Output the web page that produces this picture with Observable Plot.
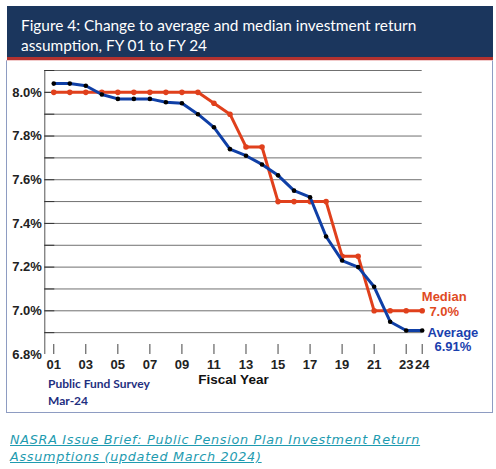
<!DOCTYPE html>
<html><head><meta charset="utf-8">
<script src="https://cdn.jsdelivr.net/npm/d3@7"></script>
<script src="https://cdn.jsdelivr.net/npm/@observablehq/plot@0.6"></script>
<style>
body{margin:0;background:#fff;}
#wrap{position:relative;width:496px;height:469px;overflow:hidden;font-family:"Liberation Sans",Arial,sans-serif;}
#title{position:absolute;left:7px;top:6px;width:486px;height:54px;background:#1b365d;border-bottom:3px solid #b3322f;color:#fff;font-family:Lato,sans-serif;font-size:15.4px;line-height:20px;box-sizing:border-box;padding:9px 0 0 14px;}
#box{position:absolute;left:6px;top:60px;width:487px;height:353px;border-left:1.5px solid #8e9cc2;border-right:1.5px solid #8e9cc2;border-bottom:1.5px solid #8e9cc2;border-top:1px solid #f2caca;box-sizing:border-box;}
#chart{position:absolute;left:0;top:0;}
#src{position:absolute;left:48px;top:374.5px;color:#1f2f80;font-family:Lato,sans-serif;font-weight:bold;font-size:12px;line-height:17px;}
#cap{position:absolute;left:10px;top:430.5px;color:#1e9bb0;font-family:"DejaVu Sans",sans-serif;font-style:italic;font-size:12.8px;letter-spacing:0.7px;line-height:17px;text-decoration:underline;white-space:nowrap;}
</style></head>
<body>
<div id="wrap">
  <div id="box"></div>
  <div id="chart"></div>
  <div id="title">Figure 4: Change to average and median investment return<br>assumption, FY 01 to FY 24</div>
  <div id="src">Public Fund Survey<br>Mar-24</div>
  <div id="cap">NASRA Issue Brief: Public Pension Plan Investment Return<br>Assumptions (updated March 2024)</div>
</div>
<script>
const years = [1,2,3,4,5,6,7,8,9,10,11,12,13,14,15,16,17,18,19,20,21,22,23,24];
const average = [8.04,8.04,8.03,7.99,7.97,7.97,7.97,7.955,7.95,7.90,7.84,7.74,7.71,7.67,7.62,7.55,7.52,7.34,7.23,7.20,7.11,6.95,6.91,6.91];
const median = [8.0,8.0,8.0,8.0,8.0,8.0,8.0,8.0,8.0,8.0,7.95,7.90,7.75,7.75,7.5,7.5,7.5,7.5,7.25,7.25,7.0,7.0,7.0,7.0];
const xTicks = [1,3,5,7,9,11,13,15,17,19,21,23,24];
const yLabelTicks = [6.8,7.0,7.2,7.4,7.6,7.8,8.0];
const gridValues = [6.9,7.0,7.1,7.2,7.3,7.4,7.5,7.6,7.7,7.8,7.9,8.0,8.1];
const xDomain = [0.44, 24];
const yDomain = [6.8, 8.1];
const medianLabel = "Median\n7.0%";
const averageLabel = "Average\n6.91%";
const xLabel = "Fiscal Year";

const data = years.map((y, i) => ({year: y, average: average[i], median: median[i]}));
const last = data[data.length - 1];
const red = "#e0401c", blue = "#0f3fa6";

const chart = Plot.plot({
  width: 496, height: 420,
  marginTop: 70, marginBottom: 66, marginLeft: 44.3, marginRight: 74.3,
  style: {fontFamily: '"Liberation Sans", Arial, sans-serif', overflow: "visible", background: "transparent"},
  x: {domain: xDomain},
  y: {domain: yDomain},
  marks: [
    Plot.ruleY(gridValues, {stroke: "#707070", strokeWidth: 1}),
    Plot.ruleX([xDomain[0]], {y1: yDomain[0], y2: yDomain[1], stroke: "#555", strokeWidth: 1}),
    Plot.axisY({ticks: gridValues, tickSize: -10, text: null, stroke: "#333", label: null}),
    Plot.axisY({ticks: yLabelTicks, tickSize: 0, tickPadding: 3, tickFormat: d => d.toFixed(1) + "%", fontSize: 13, fontWeight: "bold", fill: "#222", label: null}),
    Plot.axisX({ticks: xTicks, tickSize: -10, text: null, stroke: "#444", label: null}),
    Plot.axisX({ticks: xTicks, tickSize: 0, tickPadding: 5, tickFormat: d => String(d).padStart(2, "0"), fontSize: 13, fontWeight: "bold", fill: "#222", label: null}),
    Plot.text([xLabel], {frameAnchor: "bottom", dy: 29, fontSize: 13.5, fontWeight: "bold", fill: "#111"}),
    Plot.line(data, {x: "year", y: "median", stroke: red, strokeWidth: 3}),
    Plot.dot(data, {x: "year", y: "median", fill: red, r: 2.8}),
    Plot.line(data, {x: "year", y: "average", stroke: blue, strokeWidth: 3}),
    Plot.dot(data, {x: "year", y: "average", fill: "#000", r: 2.3}),
    Plot.text([last], {x: "year", y: "median", text: () => medianLabel, dx: 22, dy: -7, textAnchor: "middle", lineHeight: 1.1, fontSize: 13, fontWeight: "bold", fill: "#e04a1f"}),
    Plot.text([last], {x: "year", y: "average", text: () => averageLabel, dx: 30.7, dy: 9, textAnchor: "middle", lineHeight: 1.08, fontSize: 13, fontWeight: "bold", fill: "#1a3fae"})
  ]
});
document.getElementById("chart").appendChild(chart);
</script>
</body></html>
